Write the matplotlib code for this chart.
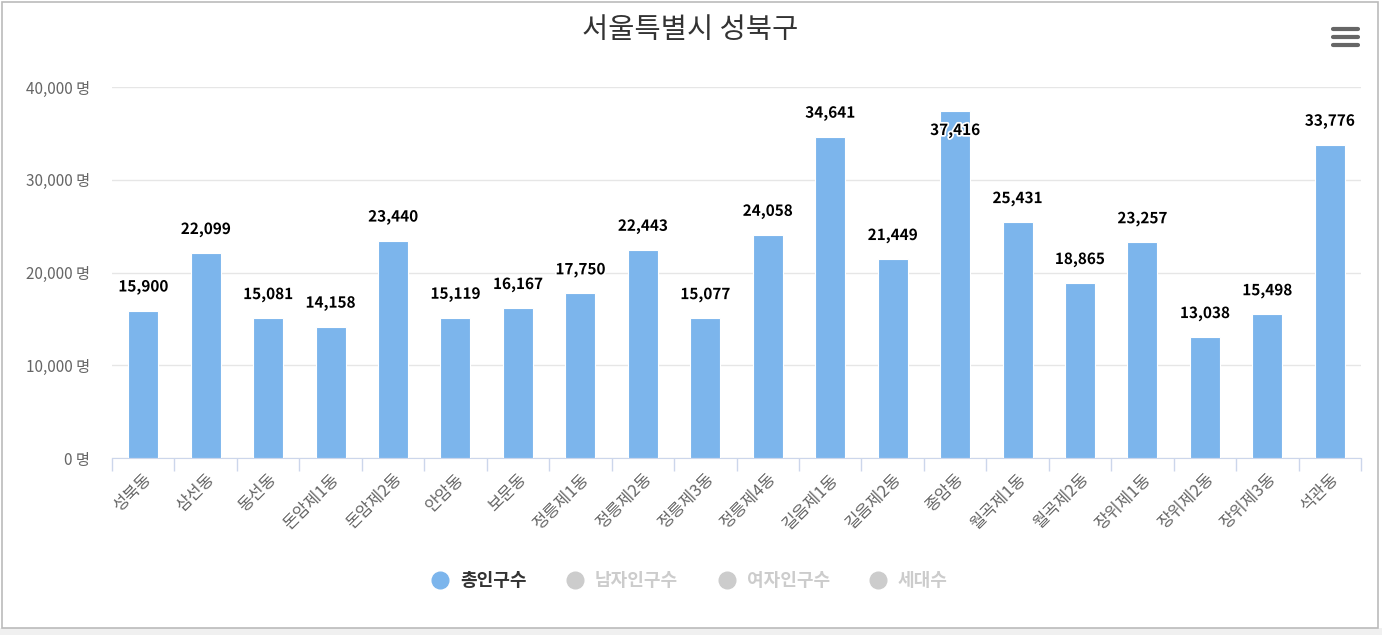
import matplotlib.pyplot as plt
from matplotlib.patches import Rectangle
from matplotlib.lines import Line2D
import matplotlib.patheffects as pe

plt.rcParams['font.family'] = ['Noto Sans CJK KR', 'DejaVu Sans']

# 데이터
dong = ['성북동', '삼선동', '동선동', '돈암제1동', '돈암제2동', '안암동', '보문동',
        '정릉제1동', '정릉제2동', '정릉제3동', '정릉제4동', '길음제1동', '길음제2동',
        '종암동', '월곡제1동', '월곡제2동', '장위제1동', '장위제2동', '장위제3동', '석관동']
total_pop = [15900, 22099, 15081, 14158, 23440, 15119, 16167, 17750, 22443, 15077,
             24058, 34641, 21449, 37416, 25431, 18865, 23257, 13038, 15498, 33776]
yticks = [0, 10000, 20000, 30000, 40000]
legend_names = ['총인구수', '남자인구수', '여자인구수', '세대수']

W, H = 1382, 635
fig = plt.figure(figsize=(W / 100, H / 100), dpi=100)
ax = fig.add_axes([112 / W, 1 - 458 / H, (1361 - 112) / W, (458 - 87) / H])

x = range(len(dong))
ax.bar(x, total_pop, width=0.48, color='#7cb5ec', edgecolor='white', linewidth=0.8, zorder=3)

for i, v in enumerate(total_pop):
    if v > 36000:
        off = -14
    else:
        off = 17
    ax.annotate(f'{v:,}', (i, v), xytext=(0, off), textcoords='offset points',
                ha='center', va='center', fontsize=11, fontweight='bold', color='black',
                path_effects=[pe.withStroke(linewidth=2.5, foreground='white')], zorder=5)

ax.set_xlim(-0.5, len(dong) - 0.5)
ax.set_ylim(0, 40000)
ax.set_yticks(yticks)
ax.set_yticklabels([f'{t:,} 명' for t in yticks], fontsize=11, color='#666666')
ax.yaxis.grid(True, color='#e6e6e6', linewidth=1, zorder=0)
ax.tick_params(axis='y', length=0, pad=16)

ax.set_xticks(x)
ax.set_xticklabels(dong, rotation=45, ha='right', rotation_mode='anchor',
                   fontsize=12, color='#666666')
ax.set_xticks([i - 0.5 for i in range(len(dong) + 1)], minor=True)
ax.tick_params(axis='x', which='major', length=0, pad=9)
ax.tick_params(axis='x', which='minor', length=9, color='#ccd6eb', width=1)

for s in ['top', 'right', 'left']:
    ax.spines[s].set_visible(False)
ax.spines['bottom'].set_color('#ccd6eb')

fig.text(690 / W, 1 - 30 / H, '서울특별시 성북구', ha='center', va='center',
         fontsize=20.5, color='#333333')

# 메뉴 아이콘
for yy in [29, 37, 45]:
    fig.add_artist(Line2D([1333 / W, 1358 / W], [1 - yy / H, 1 - yy / H],
                          color='#666666', linewidth=3, solid_capstyle='round'))

# 범례
mx = [440, 575, 727, 878]
for k, name in enumerate(legend_names):
    c = '#7cb5ec' if k == 0 else '#cccccc'
    tc = '#333333' if k == 0 else '#cccccc'
    fig.add_artist(Line2D([mx[k] / W], [1 - 580 / H], marker='o', markersize=12,
                          color=c, linestyle='none'))
    fig.text((mx[k] + 20) / W, 1 - 580 / H, name, ha='left', va='center',
             fontsize=13, fontweight='bold', color=tc)

# 테두리
fig.add_artist(Rectangle((0, 0), 1, 7 / H, transform=fig.transFigure,
                         facecolor='#f0f0f0', edgecolor='none'))
fig.add_artist(Rectangle((2 / W, 7 / H), 1376 / W, (H - 9) / H, transform=fig.transFigure,
                         facecolor='none', edgecolor='#bbbbbb', linewidth=1.2))

fig.savefig('out.png', dpi=100)
